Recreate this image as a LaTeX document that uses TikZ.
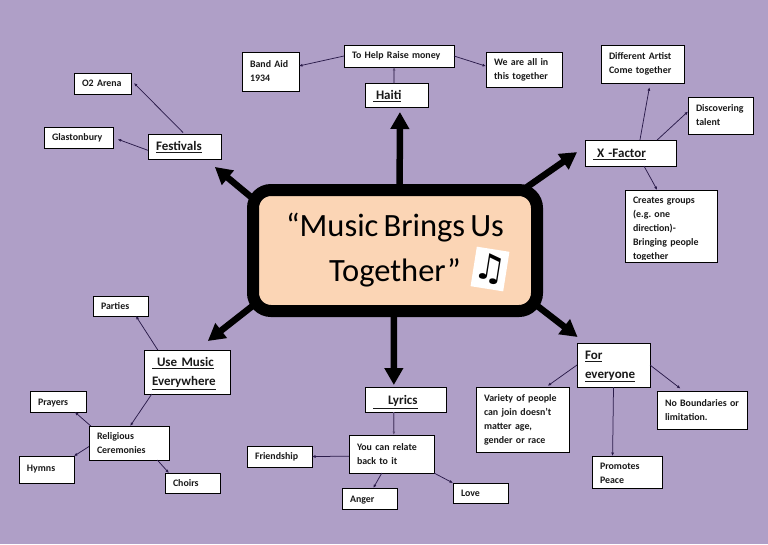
\documentclass[tikz,border=0pt]{standalone}
\usepackage{fontspec}
\setmainfont[WordSpace=0.7]{Carlito}
\newfontfamily\notefont{DejaVu Sans Bold}
\usetikzlibrary{arrows.meta}
\definecolor{MapPurple}{HTML}{AF9FC7}
\definecolor{MapPeach}{HTML}{FBD5B5}
\definecolor{MapLink}{HTML}{2A1B4A}
\definecolor{MapLinkSoft}{HTML}{5F4F78}
\newcommand{\toppad}[1]{\rule{0pt}{#1pt}}

\begin{document}
\begin{tikzpicture}[
  x=1pt,y=-1pt,
  box/.style 2 args={draw=black,fill=white,line width=0.9pt,outer sep=0pt,
    inner xsep=8pt,inner ysep=0pt,text width=#1pt-16pt,minimum height=#2pt,
    align=left,text=black!90,font=\frenchspacing\bfseries\fontsize{9.9}{14}\selectfont},
  heading/.style={font=\bfseries\fontsize{13}{18.5}\selectfont},
  hubbox/.style={draw=black,fill=MapPeach,line width=12pt,outer sep=6pt,
    rounded corners=18pt,minimum width=284pt,minimum height=121pt,inner sep=0pt,
    align=center,font=\fontsize{32.5}{45}\selectfont},
  branch/.style={-{Triangle[length=17pt,width=18pt]},draw=black,line width=6.5pt,
    shorten <=-8pt},
  link/.style={-{Latex[length=3.5pt,width=3pt]},draw=MapLink,line width=0.75pt},
  softlink/.style={link,draw=MapLinkSoft,line width=1.2pt}
]

\fill[MapPurple] (0,0) rectangle (768,544);

\node[hubbox] (hub) at (395,250.5) {“Music Brings Us\\Together”};
\node[fill=white,minimum width=33pt,minimum height=40pt,inner sep=0pt,rotate=-9,
  font=\notefont\fontsize{36}{36}\selectfont] (note) at (490,269) {♫};

\node[box={63}{24},heading] (haiti) at (396.5,95) {\toppad{11}\underline{\hspace{3pt}Haiti}};
\node[box={110}{22}] (raise) at (399,56) {To Help Raise money};
\node[box={57}{39}] (bandaid) at (270.5,71.5) {Band Aid\\1934};
\node[box={76}{35}] (together) at (524,69.5) {We are all in\\this together};

\node[box={91}{26},heading] (xfactor) at (630.5,153) {\toppad{11}\underline{\hspace{4pt}X -Factor}};
\node[box={83}{38}] (artist) at (642.5,64) {Different Artist\\Come together};
\node[box={65}{37}] (talent) at (720.5,115.5) {Discovering\\talent};
\node[box={92}{72}] (groups) at (671,226) {\toppad{13}Creates groups\\(e.g. one\\direction)-\\Bringing people\\together};
\fill[white] ([xshift=1pt,yshift=0.6pt]groups.south west)
  rectangle ([xshift=-1pt,yshift=2.4pt]groups.south east);

\node[box={73}{25},heading] (festivals) at (184.5,146.5) {\toppad{11}\underline{Festivals}};
\node[box={57}{21}] (arena) at (102.5,83.5) {O2 Arena};
\node[box={69}{21}] (glastonbury) at (78.5,137.5) {Glastonbury};

\node[box={86}{44},heading] (usemusic) at (187,372) {\toppad{12.5}\underline{\hspace{5pt}Use Music}\\\underline{Everywhere}};
\node[box={55}{20}] (parties) at (120.5,306) {Parties};
\node[box={80}{34}] (religious) at (129,443) {Religious\\Ceremonies};
\node[box={56}{21}] (prayers) at (58,401.5) {\toppad{10}Prayers};
\node[box={55}{27}] (hymns) at (46.5,469.5) {Hymns};
\node[box={55}{20}] (choirs) at (192.5,483) {Choirs};

\node[box={81}{25},heading] (lyrics) at (405.5,399.5) {\toppad{14}\underline{\hspace{15pt}Lyrics}};
\node[box={85}{38}] (relate) at (391.5,454) {You can relate\\back to it};
\node[box={65}{21}] (friendship) at (279.5,456.5) {Friendship};
\node[box={55}{21}] (anger) at (369.5,498.5) {\toppad{10}Anger};
\node[box={55}{20}] (love) at (480.5,493) {Love};

\node[box={73}{44},heading] (everyone) at (613.5,365) {\toppad{12}\underline{For}\\\underline{everyone}};
\node[box={93}{65}] (variety) at (522.5,419.5) {Variety of people\\can join doesn’t\\matter age,\\gender or race};
\node[box={90}{38}] (boundaries) at (702,410) {No Boundaries or\\limitation.};
\node[box={70}{32}] (peace) at (627,472) {\toppad{10}Promotes\\Peace};

\draw[branch,shorten >=5pt] (hub.86) -- (haiti.-74);
\draw[branch,shorten >=9.6pt] (hub.26.5) -- (xfactor.172);
\draw[branch,shorten >=12.4pt] (hub.159) -- (festivals.-31);
\draw[branch,shorten >=14.6pt] (hub.202) -- (usemusic.67);
\draw[branch,shorten >=2pt] (hub.269) -- (lyrics.133);
\draw[branch,shorten >=9.8pt] (hub.-22) -- (everyone.142);

\draw[softlink] (haiti.102) -- (raise.-114);
\draw[link] (raise.west) -- (bandaid.11);
\draw[link] (raise.east) -- (together.175);

\draw[link,shorten >=4.3pt] (xfactor.54) -- (artist.-68);
\draw[link] (xfactor.26) -- (talent.173);
\draw[link] (xfactor.-44) -- (groups.111);

\draw[link,shorten <=2pt,shorten >=4.2pt] (festivals.north) -- (arena.7);
\draw[link,shorten >=5pt] (festivals.186) -- (glastonbury.east);

\draw[link] (usemusic.143) -- (parties.-33);
\draw[link] (usemusic.212) -- (religious.86);
\draw[link] (religious.156) -- (prayers.-32);
\draw[link] (religious.185) -- (hymns.26);
\draw[link] (religious.-31) -- (choirs.157);

\draw[softlink] (lyrics.227) -- (relate.83);
\draw[link] (relate.183) -- (friendship.east);
\draw[link] (relate.243) -- (anger.70);
\draw[link] (relate.south east) -- (love.north west);

\draw[link,shorten >=2pt] (everyone.west) -- (variety.54);
\draw[link,shorten >=4pt] (everyone.east) -- (boundaries.134);
\draw[link] (everyone.south) -- (peace.132);

\end{tikzpicture}
\end{document}
